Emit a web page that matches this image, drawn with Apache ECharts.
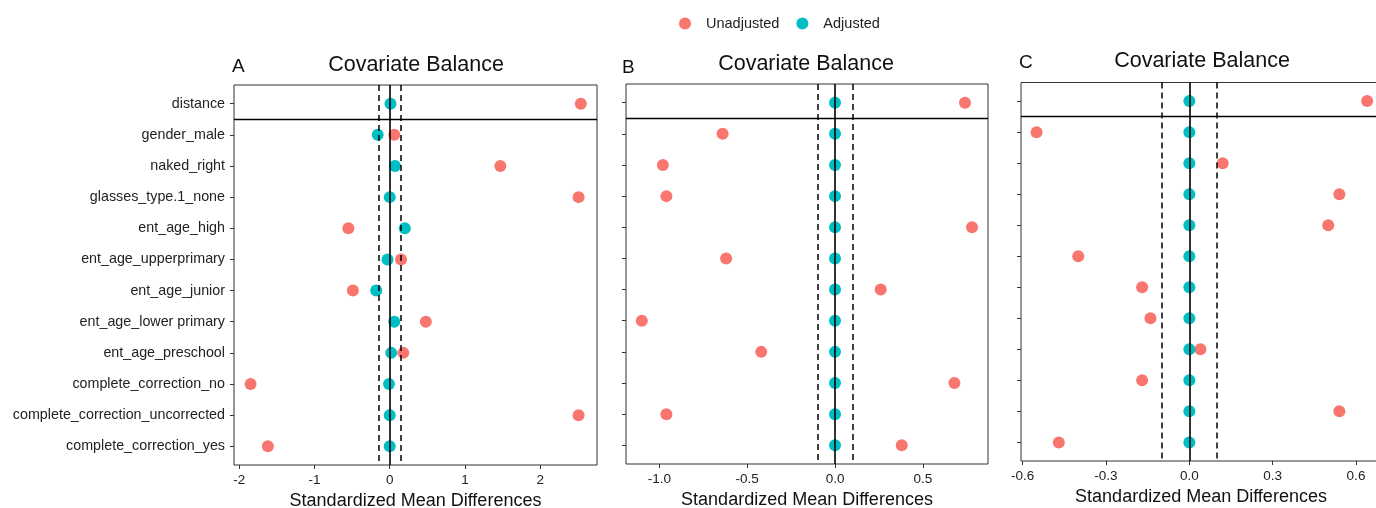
<!DOCTYPE html>
<html>
<head>
<meta charset="utf-8">
<script src="https://cdn.jsdelivr.net/npm/echarts@6.0.0/dist/echarts.min.js"></script>
<style>
  html, body { margin: 0; padding: 0; background: #fff; }
  #chart { width: 1376px; height: 508px; }
</style>
</head>
<body>
<div id="chart"></div>
<script>
// covariates, top to bottom
const covariates = [
  'distance', 'gender_male', 'naked_right', 'glasses_type.1_none', 'ent_age_high',
  'ent_age_upperprimary', 'ent_age_junior', 'ent_age_lower primary', 'ent_age_preschool',
  'complete_correction_no', 'complete_correction_uncorrected', 'complete_correction_yes'
]

const unadjA = [2.54, 0.06, 1.47, 2.51, -0.55, 0.15, -0.49, 0.48, 0.18, -1.85, 2.51, -1.62]
const adjA = [0.01, -0.16, 0.07, 0.0, 0.20, -0.03, -0.18, 0.06, 0.02, -0.01, 0.0, 0.0]
const unadjB = [0.74, -0.64, -0.98, -0.96, 0.78, -0.62, 0.26, -1.10, -0.42, 0.68, -0.96, 0.38]
const adjB = [0, 0, 0, 0, 0, 0, 0, 0, 0, 0, 0, 0]
const unadjC = [0.64, -0.55, 0.12, 0.54, 0.50, -0.40, -0.17, -0.14, 0.04, -0.17, 0.54, -0.47]
const adjC = [0, 0, 0, 0, 0, 0, 0, 0, 0, 0, 0, 0]

const xTicksA = [-2, -1, 0, 1, 2]
const xTicksB = [-1.0, -0.5, 0.0, 0.5]
const xTicksC = [-0.6, -0.3, 0.0, 0.3, 0.6]
const thresholds = [0.15, 0.1, 0.1]
const panelLetters = ['A', 'B', 'C']

const RED = '#F8766D'
const TEAL = '#00BFC4'
const FONT = '"Liberation Sans", Arial, sans-serif'

const chart = echarts.init(document.getElementById('chart'), null, { renderer: 'canvas' })

const panels = [
  { unadj: unadjA, adj: adjA, ticks: xTicksA, digits: 0, min: -2.07, max: 2.755,
    grid: { left: 234, top: 85, width: 363, height: 380 }, labels: true, titleX: 416, titleY: 65, letterX: 232, letterY: 67 },
  { unadj: unadjB, adj: adjB, ticks: xTicksB, digits: 1, min: -1.19, max: 0.871,
    grid: { left: 626, top: 84, width: 362, height: 380 }, labels: false, titleX: 806, titleY: 64, letterX: 622, letterY: 68 },
  { unadj: unadjC, adj: adjC, ticks: xTicksC, digits: 1, min: -0.606, max: 0.69,
    grid: { left: 1021, top: 82.5, width: 360, height: 378.5 }, labels: false, titleX: 1202, titleY: 61, letterX: 1019, letterY: 63 },
]

const yIndex = covariates.map((c, i) => i)

const grids = []
const xAxes = []
const yAxes = []
const series = []
const graphics = []

panels.forEach((p, k) => {
  grids.push(Object.assign({
    show: true, borderColor: '#333', borderWidth: 1, backgroundColor: 'transparent',
    containLabel: false, outerBoundsMode: 'none'
  }, p.grid))
  xAxes.push({
    gridIndex: k,
    type: 'value',
    position: 'bottom',
    min: p.min,
    max: p.max,
    axisLine: { show: false, onZero: false },
    splitLine: { show: false },
    axisTick: { show: true, inside: false, length: 4, customValues: p.ticks, lineStyle: { color: '#333' } },
    axisLabel: {
      customValues: p.ticks, margin: 8, color: '#222', fontSize: 13.5, fontFamily: FONT,
      formatter: v => Number(v).toFixed(p.digits)
    },
    name: 'Standardized Mean Differences',
    nameLocation: 'middle',
    nameGap: 22,
    nameTextStyle: { color: '#111', fontSize: 18, fontFamily: FONT },
  })
  yAxes.push({
    gridIndex: k,
    type: 'value',
    position: 'left',
    inverse: true,
    min: -0.6,
    max: 11.6,
    axisLine: { show: false, onZero: false },
    splitLine: { show: false },
    axisTick: { show: true, inside: false, length: 4, customValues: yIndex, lineStyle: { color: '#333' } },
    axisLabel: {
      show: p.labels, customValues: yIndex, margin: 9, color: '#222', fontSize: 14.3, fontFamily: FONT,
      formatter: v => covariates[Math.round(v)]
    },
  })

  const t = thresholds[k]
  series.push({
    type: 'scatter', xAxisIndex: k, yAxisIndex: k, data: [], z: 1, silent: true,
    markLine: {
      silent: true,
      symbol: ['none', 'none'],
      label: { show: false },
      animation: false,
      data: [
        { xAxis: 0, lineStyle: { color: '#000', width: 1.6, type: 'solid' } },
        { xAxis: -t, lineStyle: { color: '#000', width: 1.5, type: [6, 4] } },
        { xAxis: t, lineStyle: { color: '#000', width: 1.5, type: [6, 4] } },
        { yAxis: 0.5, lineStyle: { color: '#000', width: 1.4, type: 'solid' } },
      ],
    },
  })
  series.push({
    name: 'Unadjusted', type: 'scatter', xAxisIndex: k, yAxisIndex: k, z: 3,
    symbolSize: 12, itemStyle: { color: RED, opacity: 1 },
    data: p.unadj.map((v, i) => [v, i]),
  })
  series.push({
    name: 'Adjusted', type: 'scatter', xAxisIndex: k, yAxisIndex: k, z: 4,
    symbolSize: 12, itemStyle: { color: TEAL, opacity: 1 },
    data: p.adj.map((v, i) => [v, i]),
  })

  graphics.push({
    type: 'text', x: p.titleX, y: p.titleY,
    style: { text: 'Covariate Balance', fill: '#111', font: '21.5px ' + FONT, textAlign: 'center', textVerticalAlign: 'middle' },
  })
  graphics.push({
    type: 'text', x: p.letterX, y: p.letterY,
    style: { text: panelLetters[k], fill: '#111', font: '19px ' + FONT, textAlign: 'left', textVerticalAlign: 'middle' },
  })
})

const option = {
  backgroundColor: '#fff',
  animation: false,
  legend: {
    data: ['Unadjusted', 'Adjusted'],
    left: 674,
    top: 11,
    icon: 'circle',
    itemWidth: 12,
    itemHeight: 12,
    itemGap: 17,
    textStyle: { color: '#222', fontSize: 14.5, fontFamily: FONT, padding: [0, 0, 0, 10] },
  },
  grid: grids,
  xAxis: xAxes,
  yAxis: yAxes,
  series: series,
  graphic: graphics,
}

chart.setOption(option)
</script>
</body>
</html>
